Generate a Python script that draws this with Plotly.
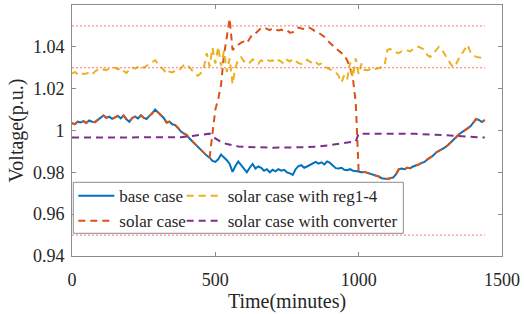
import plotly.graph_objects as go

# ---------------- data ----------------
t10 = list(range(0, 1441, 10))

base_case = [
    1.0035, 1.0030, 1.0042, 1.0038, 1.0045, 1.0036, 1.0048, 1.0042, 1.0040, 1.0050,  # 0-90
    1.0062, 1.0072, 1.0060, 1.0066, 1.0056, 1.0062, 1.0070, 1.0058, 1.0072, 1.0054,  # 100-190
    1.0042, 1.0060, 1.0066, 1.0058, 1.0072, 1.0062, 1.0055, 1.0070, 1.0082, 1.0100,  # 200-290
    1.0085, 1.0072, 1.0060, 1.0038, 1.0042, 1.0030, 1.0026, 1.0012, 0.9995, 0.9986,  # 300-390
    0.9978, 0.9962, 0.9948, 0.9935, 0.9918, 0.9905, 0.9895, 0.9880, 0.9870, 0.9855,  # 400-490
    0.9850, 0.9862, 0.9885, 0.9872, 0.9858, 0.9840, 0.9802, 0.9830, 0.9852, 0.9835,  # 500-590
    0.9815, 0.9800, 0.9822, 0.9840, 0.9818, 0.9828, 0.9822, 0.9808, 0.9815, 0.9800,  # 600-690
    0.9812, 0.9805, 0.9815, 0.9808, 0.9812, 0.9800, 0.9795, 0.9788, 0.9815, 0.9830,  # 700-790
    0.9834, 0.9822, 0.9828, 0.9835, 0.9842, 0.9850, 0.9842, 0.9848, 0.9838, 0.9852,  # 800-890
    0.9845, 0.9832, 0.9820, 0.9818, 0.9822, 0.9812, 0.9810, 0.9815, 0.9808, 0.9806,  # 900-990
    0.9803, 0.9800, 0.9802, 0.9798, 0.9795, 0.9790, 0.9785, 0.9780, 0.9772, 0.9770,  # 1000-1090
    0.9768, 0.9772, 0.9775, 0.9790, 0.9815, 0.9818, 0.9815, 0.9822, 0.9820, 0.9828,  # 1100-1190
    0.9832, 0.9838, 0.9845, 0.9850, 0.9862, 0.9872, 0.9880, 0.9895, 0.9902, 0.9910,  # 1200-1290
    0.9918, 0.9928, 0.9940, 0.9952, 0.9968, 0.9982, 0.9990, 1.0000, 1.0010, 1.0020,  # 1300-1390
    1.0035, 1.0055, 1.0050, 1.0040, 1.0050,                                          # 1400-1440
]

# solar case differs from base case between 480 and 1000 minutes
solar_mid_t = list(range(480, 1001, 10))
solar_mid = [
    0.9870, 0.9990, 1.0100, 1.0150, 1.0220, 1.0360, 1.0460, 1.0535, 1.0385, 1.0400,  # 480-570
    1.0410, 1.0420, 1.0425, 1.0418, 1.0440, 1.0462, 1.0465, 1.0478, 1.0490, 1.0492,  # 580-670
    1.0485, 1.0480, 1.0488, 1.0482, 1.0478, 1.0482, 1.0475, 1.0478, 1.0468, 1.0470,  # 680-770
    1.0482, 1.0492, 1.0488, 1.0485, 1.0492, 1.0490, 1.0482, 1.0472, 1.0468, 1.0460,  # 780-870
    1.0448, 1.0432, 1.0418, 1.0405, 1.0392, 1.0382, 1.0372, 1.0360, 1.0335, 1.0300,  # 880-970
    1.0250, 1.0130, 0.9803,                                                          # 980-1000
]

reg1_4 = [
    1.0272, 1.0280, 1.0268, 1.0276, 1.0270, 1.0272, 1.0278, 1.0268, 1.0282, 1.0290,  # 0-90
    1.0284, 1.0292, 1.0288, 1.0298, 1.0296, 1.0300, 1.0292, 1.0300, 1.0285, 1.0275,  # 100-190
    1.0290, 1.0302, 1.0296, 1.0306, 1.0312, 1.0300, 1.0310, 1.0318, 1.0330, 1.0336,  # 200-290
    1.0318, 1.0304, 1.0290, 1.0270, 1.0282, 1.0278, 1.0286, 1.0284, 1.0300, 1.0312,  # 300-390
    1.0318, 1.0300, 1.0285, 1.0270, 1.0262, 1.0275, 1.0300, 1.0370, 1.0305, 1.0395,  # 400-490
    1.0320, 1.0400, 1.0310, 1.0380, 1.0280, 1.0345, 1.0222, 1.0300, 1.0340, 1.0350,  # 500-590
    1.0330, 1.0338, 1.0325, 1.0340, 1.0330, 1.0320, 1.0336, 1.0328, 1.0338, 1.0332,  # 600-690
    1.0335, 1.0325, 1.0336, 1.0330, 1.0318, 1.0338, 1.0330, 1.0342, 1.0332, 1.0322,  # 700-790
    1.0318, 1.0325, 1.0338, 1.0330, 1.0320, 1.0328, 1.0315, 1.0320, 1.0305, 1.0300,  # 800-890
    1.0292, 1.0285, 1.0278, 1.0262, 1.0230, 1.0265, 1.0245, 1.0325, 1.0255, 1.0345,  # 900-990
    1.0270, 1.0320, 1.0290, 1.0288, 1.0292, 1.0286, 1.0295, 1.0298, 1.0305, 1.0310,  # 1000-1090
    1.0385, 1.0390, 1.0378, 1.0375, 1.0370, 1.0378, 1.0376, 1.0382, 1.0378, 1.0390,  # 1100-1190
    1.0398, 1.0400, 1.0392, 1.0385, 1.0360, 1.0352, 1.0368, 1.0385, 1.0400, 1.0388,  # 1200-1290
    1.0365, 1.0340, 1.0320, 1.0302, 1.0318, 1.0345, 1.0365, 1.0385, 1.0410, 1.0375,  # 1300-1390
    1.0360, 1.0352, 1.0350, 1.0348, 1.0345,                                          # 1400-1440
]

conv_t = [0, 100, 200, 300, 380, 420, 460, 480, 500, 520, 540, 560, 580, 600, 700,
          800, 850, 900, 950, 990, 1000, 1100, 1200, 1300, 1380, 1440]
converter = [0.9966, 0.9966, 0.9967, 0.9967, 0.9968, 0.9974, 0.9981, 0.9985, 0.9962, 0.9945,
             0.9935, 0.9928, 0.9924, 0.9922, 0.9918, 0.9920, 0.9922, 0.9930, 0.9940, 0.9948,
             0.9985, 0.9986, 0.9984, 0.9978, 0.9970, 0.9966]

limit_levels = [1.05, 1.03, 0.95]
limit_t = [0, 1440]

y_ticks = [0.94, 0.96, 0.98, 1.00, 1.02, 1.04, 1.06]
y_tick_text = ["0.94", "0.96", "0.98", "1", "1.02", "1.04", "1.06"]
x_ticks = [0, 500, 1000, 1500]

# build solar case series from base + the daytime segment
solar_t = t10
solar_case = []
for i, tt in enumerate(t10):
    if tt in solar_mid_t:
        solar_case.append(solar_mid[solar_mid_t.index(tt)])
    else:
        solar_case.append(base_case[i])

# ---------------- figure ----------------
FONT = "Liberation Serif"
TXT = "#262626"
C_BLUE = "#0072BD"
C_ORANGE = "#D95319"
C_YELLOW = "#EDB120"
C_PURPLE = "#7E2F8E"
C_LIMIT = "rgba(255,90,90,0.85)"
DASH = "7px,5px"

fig = go.Figure()

fig.add_trace(go.Scatter(x=t10, y=base_case, mode="lines", name="base case",
                         line=dict(color=C_BLUE, width=2), legend="legend"))
fig.add_trace(go.Scatter(x=solar_t, y=solar_case, mode="lines", name="solar case",
                         line=dict(color=C_ORANGE, width=2, dash=DASH), legend="legend"))
fig.add_trace(go.Scatter(x=t10, y=reg1_4, mode="lines", name="solar case with reg1-4",
                         line=dict(color=C_YELLOW, width=2, dash=DASH), legend="legend2"))
fig.add_trace(go.Scatter(x=conv_t, y=converter, mode="lines", name="solar case with converter",
                         line=dict(color=C_PURPLE, width=2, dash=DASH), legend="legend2"))

for lv in limit_levels:
    fig.add_trace(go.Scatter(x=limit_t, y=[lv, lv], mode="lines", showlegend=False,
                             hoverinfo="skip",
                             line=dict(color=C_LIMIT, width=1, dash="2px,2px")))

axis_common = dict(
    showline=True, linecolor="#8c8c8c", linewidth=1, mirror="ticks",
    ticks="inside", ticklen=4, tickcolor="#8c8c8c",
    showgrid=False, zeroline=False,
    tickfont=dict(family=FONT, size=18, color=TXT),
)

legend_common = dict(
    yanchor="top", orientation="v", bgcolor="rgba(0,0,0,0)", borderwidth=0,
    font=dict(family=FONT, size=17, color=TXT), itemwidth=36, tracegroupgap=0,
)

fig.update_layout(
    width=524, height=314,
    margin=dict(l=72, r=22, t=5, b=58),
    paper_bgcolor="white", plot_bgcolor="white",
    font=dict(family=FONT, color=TXT),
    xaxis=dict(range=[0, 1500], tickvals=x_ticks, ticklabelstandoff=7,
               title=dict(text="Time(minutes)", font=dict(family=FONT, size=20, color=TXT),
                          standoff=3),
               **axis_common),
    yaxis=dict(range=[0.94, 1.06], tickvals=y_ticks, ticktext=y_tick_text, ticklabelstandoff=3,
               title=dict(text="Voltage(p.u.)", font=dict(family=FONT, size=20, color=TXT),
                          standoff=3),
               **axis_common),
    legend=dict(x=0.003, y=0.31, xanchor="left", **legend_common),
    legend2=dict(x=0.255, y=0.31, xanchor="left", **legend_common),
    shapes=[dict(type="rect", xref="paper", yref="paper", x0=0.003, x1=0.7705,
                 y0=0.0904, y1=0.2936, fillcolor="white",
                 line=dict(color="#8c8c8c", width=1), layer="above")],
    showlegend=True,
)

fig.write_html("out.html", config={"displayModeBar": False},
               post_script="document.body.style.margin='0';")
